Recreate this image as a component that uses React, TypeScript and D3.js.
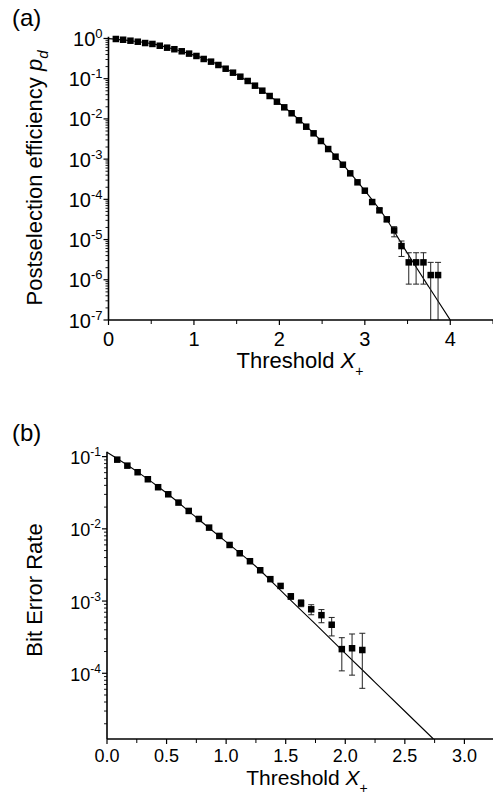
import React from "react";
import * as d3 from "d3";

// ---------- Panel (a): postselection efficiency ----------
const aX = [0.086, 0.171, 0.257, 0.343, 0.429, 0.514, 0.6, 0.686, 0.771, 0.857, 0.943, 1.029, 1.114, 1.2, 1.286, 1.371, 1.457, 1.543, 1.629, 1.714, 1.8, 1.886, 1.971, 2.057, 2.143, 2.229, 2.314, 2.4, 2.486, 2.571, 2.657, 2.743, 2.829, 2.914, 3.0, 3.086, 3.171, 3.257, 3.343, 3.429, 3.514, 3.6, 3.686, 3.771, 3.857];
const aY = [0.97, 0.93, 0.88, 0.83, 0.77, 0.73, 0.66, 0.59, 0.54, 0.48, 0.42, 0.367, 0.309, 0.265, 0.219, 0.177, 0.141, 0.112, 0.0877, 0.067, 0.0503, 0.0371, 0.0268, 0.0194, 0.0138, 0.00923, 0.0064, 0.00438, 0.00282, 0.00178, 0.00115, 7.26e-4, 4.43e-4, 2.65e-4, 1.64e-4, 8.57e-5, 5.33e-5, 3.18e-5, 1.69e-5, 6.89e-6, 2.71e-6, 2.71e-6, 2.71e-6, 1.31e-6, 1.31e-6];
// error bars: index into aX, low, high (low 0 = below axis)
const aErrIdx = [36, 37, 38, 39, 40, 41, 42, 43, 44];
const aErrLo = [4.8e-5, 2.8e-5, 1.17e-5, 3.8e-6, 7.8e-7, 7.8e-7, 7.8e-7, 0, 0];
const aErrHi = [5.9e-5, 3.6e-5, 2.09e-5, 9.2e-6, 4.7e-6, 4.7e-6, 4.7e-6, 2.71e-6, 2.71e-6];
const aFitX = [0, 0.25, 0.5, 0.75, 1.0, 1.25, 1.5, 1.75, 2.0, 2.25, 2.5, 2.75, 3.0, 3.25, 3.5, 3.75, 4.0];
const aFitY = [0.99, 0.88, 0.745, 0.555, 0.385, 0.243, 0.126, 0.06, 0.0245, 0.0088, 0.0027, 7.1e-4, 1.64e-4, 3.3e-5, 4.5e-6, 6.6e-7, 1.0e-7];
const aXTicks = [0, 1, 2, 3, 4];
const aXMinor = [0.5, 1.5, 2.5, 3.5, 4.5];
const aYExp = [0, -1, -2, -3, -4, -5, -6, -7];

// ---------- Panel (b): bit error rate ----------
const bX = [0.086, 0.171, 0.257, 0.343, 0.429, 0.514, 0.6, 0.686, 0.771, 0.857, 0.943, 1.029, 1.114, 1.2, 1.286, 1.371, 1.457, 1.543, 1.629, 1.714, 1.8, 1.886, 1.971, 2.057, 2.143];
const bY = [0.0908, 0.075, 0.0608, 0.0486, 0.0377, 0.0301, 0.0231, 0.0177, 0.0137, 0.0104, 0.00798, 0.00598, 0.00459, 0.00356, 0.00267, 0.00201, 0.00162, 0.00116, 9.33e-4, 7.69e-4, 6.38e-4, 4.7e-4, 2.16e-4, 2.22e-4, 2.1e-4];
const bErrIdx = [17, 18, 19, 20, 21, 22, 23, 24];
const bErrLo = [1.06e-3, 8.35e-4, 6.46e-4, 5.01e-4, 3.29e-4, 1.08e-4, 9.42e-5, 6.19e-5];
const bErrHi = [1.27e-3, 1.04e-3, 8.89e-4, 7.62e-4, 5.93e-4, 3.11e-4, 3.5e-4, 3.58e-4];
const bFitX = [0, 0.25, 0.5, 0.75, 1.0, 1.25, 1.5, 1.75, 2.0, 2.25, 2.5, 2.74];
const bFitY = [0.115, 0.0625, 0.0313, 0.01435, 0.00659, 0.00301, 0.0012, 4.78e-4, 1.89e-4, 7.5e-5, 2.98e-5, 1.23e-5];
const bXTicks = [0, 0.5, 1.0, 1.5, 2.0, 2.5, 3.0];
const bXMinor = [0.25, 0.75, 1.25, 1.75, 2.25, 2.75];
const bYExp = [-1, -2, -3, -4];

const FONT = "'Liberation Sans', Arial, Helvetica, sans-serif";

function minorLog(lo: number, hi: number): number[] {
  const out: number[] = [];
  for (let e = Math.floor(Math.log10(lo)) - 1; e <= Math.ceil(Math.log10(hi)); e++) {
    for (let m = 2; m <= 9; m++) {
      const v = m * Math.pow(10, e);
      if (v >= lo && v <= hi) out.push(v);
    }
  }
  return out;
}

type PanelProps = {
  x: d3.ScaleLinear<number, number>;
  y: d3.ScaleLogarithmic<number, number>;
  px: number[]; py: number[];
  errIdx: number[]; errLo: number[]; errHi: number[];
  fitX: number[]; fitY: number[];
  xTicks: number[]; xMinor: number[]; yExp: number[];
  xFmt: (v: number) => string;
  tickFont: number; supFont: number; tickLabelDy: number;
  letter: string; letterY: number;
  yTitle: React.ReactNode; yTitleCenter: number;
  xTitleX: number; xTitleY: number; xTitleFont: number;
};

function Panel(p: PanelProps) {
  const [x0, x1] = p.x.range();
  const [yb, yt] = p.y.range();
  const [dLo, dHi] = p.y.domain();
  const line = d3.line<number>()
    .x((_, i) => p.x(p.fitX[i]))
    .y((v) => p.y(v))
    .curve(d3.curveMonotoneX);
  const fitPath = line(p.fitY) || "";
  const sq = 6.5;
  const cap = 3;
  return (
    <g fontFamily={FONT} fill="#000">
      <text x={12} y={p.letterY} fontSize={24}>({p.letter})</text>
      {/* fit line */}
      <path d={fitPath} fill="none" stroke="#000" strokeWidth={1.1} />
      {/* error bars */}
      {p.errIdx.map((idx, i) => {
        const cx = p.x(p.px[idx]);
        const lo = p.errLo[i] > dLo ? p.y(p.errLo[i]) : yb;
        const hi = p.y(p.errHi[i]);
        return (
          <g key={"e" + i} stroke="#222" strokeWidth={1}>
            <line x1={cx} x2={cx} y1={hi} y2={lo} />
            <line x1={cx - cap} x2={cx + cap} y1={hi} y2={hi} />
            {p.errLo[i] > dLo && <line x1={cx - cap} x2={cx + cap} y1={lo} y2={lo} />}
          </g>
        );
      })}
      {/* markers */}
      {p.px.map((v, i) => (
        <rect key={"s" + i} x={p.x(v) - sq / 2} y={p.y(p.py[i]) - sq / 2} width={sq} height={sq} fill="#000" />
      ))}
      {/* axes */}
      <line x1={x0} x2={x1} y1={yb} y2={yb} stroke="#000" strokeWidth={1.6} />
      <line x1={x0} x2={x0} y1={yb} y2={yt} stroke="#000" strokeWidth={1.6} />
      {p.xTicks.map((t) => (
        <g key={"xt" + t}>
          <line x1={p.x(t)} x2={p.x(t)} y1={yb} y2={yb + 5} stroke="#000" strokeWidth={1.2} />
          <text x={p.x(t)} y={yb + p.tickLabelDy} fontSize={p.tickFont} textAnchor="middle">{p.xFmt(t)}</text>
        </g>
      ))}
      {p.xMinor.filter((t) => p.x(t) <= x1).map((t) => (
        <line key={"xm" + t} x1={p.x(t)} x2={p.x(t)} y1={yb} y2={yb + 4} stroke="#000" strokeWidth={1} />
      ))}
      {p.yExp.map((e) => {
        const yy = p.y(Math.pow(10, e));
        return (
          <g key={"ye" + e}>
            <line x1={x0 - 5} x2={x0} y1={yy} y2={yy} stroke="#000" strokeWidth={1.2} />
            <text x={x0 - 6} y={yy + 7.5} fontSize={p.tickFont} textAnchor="end">
              10<tspan dy={-8} fontSize={p.supFont}>{e === 0 ? "0" : "-" + Math.abs(e)}</tspan>
            </text>
          </g>
        );
      })}
      {minorLog(dLo, dHi).map((v, i) => (
        <line key={"ym" + i} x1={x0 - 3} x2={x0} y1={p.y(v)} y2={p.y(v)} stroke="#000" strokeWidth={0.9} />
      ))}
      {/* titles */}
      <text transform={`translate(42,${p.yTitleCenter}) rotate(-90)`} fontSize={22} textAnchor="middle">{p.yTitle}</text>
      <text x={p.xTitleX} y={p.xTitleY} fontSize={p.xTitleFont} textAnchor="middle">
        Threshold <tspan fontStyle="italic">X</tspan><tspan dy={8} fontSize={14}>+</tspan>
      </text>
    </g>
  );
}

export default function App() {
  const ax = d3.scaleLinear().domain([0, 4.5]).range([108.5, 493]);
  const ay = d3.scaleLog().domain([1e-7, 1.1]).range([320, 36.8]);
  const bx = d3.scaleLinear().domain([0, 3.24]).range([107, 493]);
  const by = d3.scaleLog().domain([1.23e-5, 0.117]).range([739, 451.7]);
  return (
    <svg width={493} height={796} style={{ position: "absolute", left: 0, top: 0, background: "#fff" }}>
      <rect width={493} height={796} fill="#fff" />
      <Panel
        x={ax} y={ay} px={aX} py={aY}
        errIdx={aErrIdx} errLo={aErrLo} errHi={aErrHi}
        fitX={aFitX} fitY={aFitY}
        xTicks={aXTicks} xMinor={aXMinor} yExp={aYExp}
        xFmt={(v) => String(v)} tickFont={20} supFont={13} tickLabelDy={26}
        letter="a" letterY={26}
        yTitle={<>Postselection efficiency <tspan fontStyle="italic">p</tspan><tspan fontStyle="italic" dy={6} fontSize={15}>d</tspan></>}
        yTitleCenter={178}
        xTitleX={300} xTitleY={368} xTitleFont={22}
      />
      <Panel
        x={bx} y={by} px={bX} py={bY}
        errIdx={bErrIdx} errLo={bErrLo} errHi={bErrHi}
        fitX={bFitX} fitY={bFitY}
        xTicks={bXTicks} xMinor={bXMinor} yExp={bYExp}
        xFmt={(v) => v.toFixed(1)} tickFont={18} supFont={12} tickLabelDy={22.5}
        letter="b" letterY={441}
        yTitle={<>Bit Error Rate</>}
        yTitleCenter={590}
        xTitleX={307} xTitleY={785} xTitleFont={21}
      />
    </svg>
  );
}
